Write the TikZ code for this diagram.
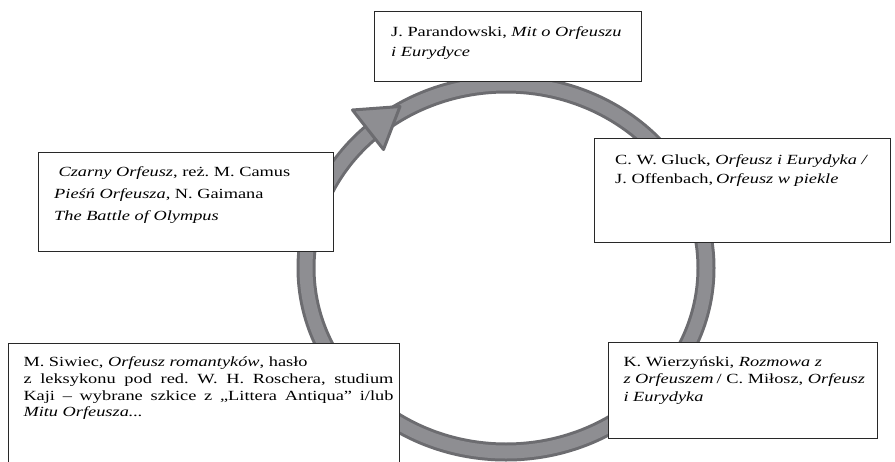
\documentclass[tikz,border=0pt]{standalone}
\usepackage{fontspec}
\setmainfont{Liberation Serif}
\usepackage{graphicx}
\definecolor{ringfill}{RGB}{142,142,146}
\definecolor{ringedge}{RGB}{108,108,112}
\definecolor{boxline}{RGB}{40,40,40}
\newcommand\btext[3]{\scalebox{#1}[1]{\parbox[t]{330pt}{\frenchspacing\fontsize{14}{#2}\selectfont #3}}}
\begin{document}
\begin{tikzpicture}[x=1pt,y=-1pt,
  boxnode/.style={draw=boxline, line width=1.1pt, fill=white, inner sep=0pt, anchor=north west},
  txt/.style={inner sep=0pt, anchor=base west}]
\useasboundingbox (0,0) rectangle (895,461);
% ring
\coordinate (ringc) at (506,268);
\draw[ringedge, line width=19pt] (ringc) ellipse [x radius=200, y radius=184];
\draw[ringfill, line width=13pt] (ringc) ellipse [x radius=200, y radius=184];
% arrowhead
\coordinate (tip) at (400,106.5);
\coordinate (ab1) at (352.5,110);
\coordinate (ab2) at (383.5,149.5);
\draw[ringedge, fill=ringfill, line width=3pt, line join=round] (tip) -- (ab1) -- (ab2) -- cycle;
% boxes
\node[boxnode, minimum width=267pt, minimum height=70pt] (topbox) at (374,11) {};
\node[boxnode, minimum width=295pt, minimum height=99pt] (leftbox) at (38,152) {};
\node[boxnode, minimum width=296pt, minimum height=104pt] (rightbox) at (594,138) {};
\node[boxnode, minimum width=269pt, minimum height=96pt] (brbox) at (608,342) {};
\node[boxnode, minimum width=391pt, minimum height=140pt] (blbox) at (8,343) {};
% texts
\node[txt] (toptext) at (391,36.7) {\btext{1.31}{19.3}{J. Parandowski, \textit{Mit o Orfeuszu}\\ \textit{i Eurydyce}}};
\node[txt] (lefttext) at (54,176.7) {\btext{1.31}{21.8}{\hspace*{3.3pt}\textit{Czarny Orfeusz}, reż. M. Camus\\ \textit{Pieśń Orfeusza}, N. Gaimana\\ \textit{The Battle of Olympus}}};
\node[txt] (righttext) at (615,164.3) {\btext{1.31}{19}{C. W. Gluck, \textit{Orfeusz i Eurydyka /}\\ J. Offenbach,\,\textit{Orfeusz w piekle}}};
\node[txt] (brtext) at (623.3,366) {\btext{1.31}{17.8}{K. Wierzyński, \textit{Rozmowa z}\\ \textit{z Orfeuszem}\,/ C. Miłosz, \textit{Orfeusz}\\ \textit{i Eurydyka}}};
\node[txt] (bltext) at (23.3,366.7) {\btext{1.31}{16.7}{M. Siwiec, \textit{Orfeusz romantyków}, hasło\\ \makebox[282.4pt][s]{z leksykonu pod red. W. H. Roschera, studium}\\ \makebox[282.4pt][s]{Kaji – wybrane szkice z „Littera Antiqua” i/lub}\\ \textit{Mitu Orfeusza...}}};
\end{tikzpicture}
\end{document}
